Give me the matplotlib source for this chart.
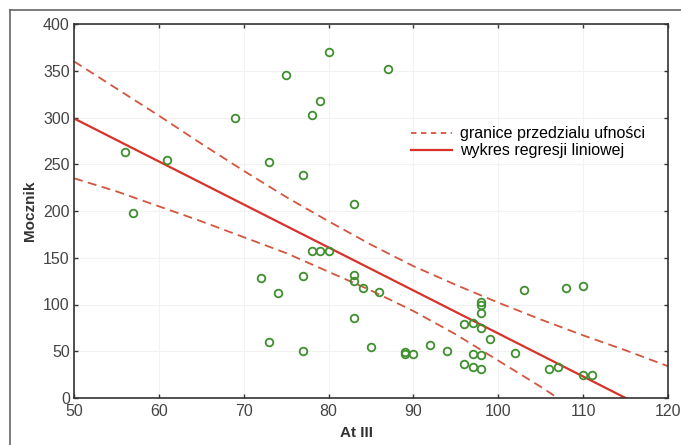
##### Mocznik vs At III - linear regression with confidence bounds #####

import numpy as np
import matplotlib.pyplot as plt
from matplotlib.lines import Line2D

plt.rcParams['font.family'] = ['Liberation Sans', 'DejaVu Sans']

at3 = [56, 57, 61, 69, 72, 73, 73, 74, 75, 77, 77, 77, 78, 78, 79, 79, 80, 80,
       83, 83, 83, 83, 84, 85, 86, 87, 89, 89, 90, 92, 94, 96, 96, 97, 97, 97,
       98, 98, 98, 98, 98, 98, 99, 102, 103, 106, 107, 108, 110, 110, 111]
mocznik = [263, 198, 255, 300, 128, 252, 60, 112, 345, 238, 130, 50, 303, 157, 318, 157, 370, 157,
           208, 132, 125, 86, 118, 55, 113, 352, 49, 47, 47, 57, 50, 79, 36, 80, 47, 33,
           103, 99, 91, 75, 46, 31, 63, 48, 115, 31, 33, 118, 120, 25, 25]

# Regression line (end points)
reg_x = [50, 115]
reg_y = [299, 0]

# Confidence bounds
ci_x = [50, 55, 60, 65, 70, 75, 80, 85, 90, 95, 100, 105, 110, 115, 120]
ci_upper = [360, 331, 302, 272, 243, 215, 189, 164, 141, 121, 102, 84, 67, 51, 34]
ci_lower = [235, 221, 205, 189, 172, 155, 135, 115, 93, 68, 40, 12, -18, -48, -78]

xticks = [50, 60, 70, 80, 90, 100, 110, 120]
yticks = [0, 50, 100, 150, 200, 250, 300, 350, 400]

dash_col = '#d4553d'        # confidence bounds colour
line_col = '#d8322a'        # regression line colour
pt_col = '#3f8f2f'          # points colour

fig = plt.figure(figsize=(6.81, 4.45), dpi=100)
ax = fig.add_axes([74/681, 1-398/445, (668-74)/681, (398-24)/445])

ax.plot(ci_x, ci_upper, ls=(0, (5, 3)), color=dash_col, lw=1.3)
ax.plot(ci_x, ci_lower, ls=(0, (5, 3)), color=dash_col, lw=1.3)
ax.plot(reg_x, reg_y, '-', color=line_col, lw=1.6)
ax.plot(at3, mocznik, 'o', mfc='none', mec=pt_col, ms=5.5, mew=1.3)

ax.set_xlim(50, 120)
ax.set_ylim(0, 400)
ax.set_xticks(xticks)
ax.set_yticks(yticks)
ax.tick_params(direction='in', length=3, width=1, top=True, right=True,
               labelsize=11.5, colors='#333333', pad=3)
ax.tick_params(axis='x', labelcolor='#444444', pad=4.5)
ax.tick_params(axis='y', labelcolor='#444444')
for s in ax.spines.values():
    s.set_color('#333333')
    s.set_linewidth(1.2)
ax.grid(True, color='#f2f2f2', lw=0.8)

ax.set_xlabel('At III', fontsize=11, fontweight='bold', color='#333333')
ax.xaxis.set_label_coords(0.475, -0.075)
ax.set_ylabel('Mocznik', fontsize=11, fontweight='bold', color='#333333')
ax.yaxis.set_label_coords(-0.062, 0.5)

# custom legend, no frame
handles = [Line2D([0], [0], ls=(0, (3, 2.5)), color=dash_col, lw=1.3, label='granice przedzialu ufności'),
           Line2D([0], [0], ls='-', color=line_col, lw=1.6, label='wykres regresji liniowej')]
ax.legend(handles=handles, loc='upper left', bbox_to_anchor=(0.567, 0.727), frameon=False,
          fontsize=11.5, handlelength=2.6, handletextpad=0.5, labelspacing=0.15,
          borderaxespad=0, borderpad=0)

# outer frame of the scanned figure (left and top edges)
fig.add_artist(Line2D([10/681, 10/681], [0, 1-10/445], color='#666666', lw=1.2))
fig.add_artist(Line2D([10/681, 1], [1-10/445, 1-10/445], color='#666666', lw=1.2))

plt.savefig('out.png', dpi=100)
plt.close(None)
